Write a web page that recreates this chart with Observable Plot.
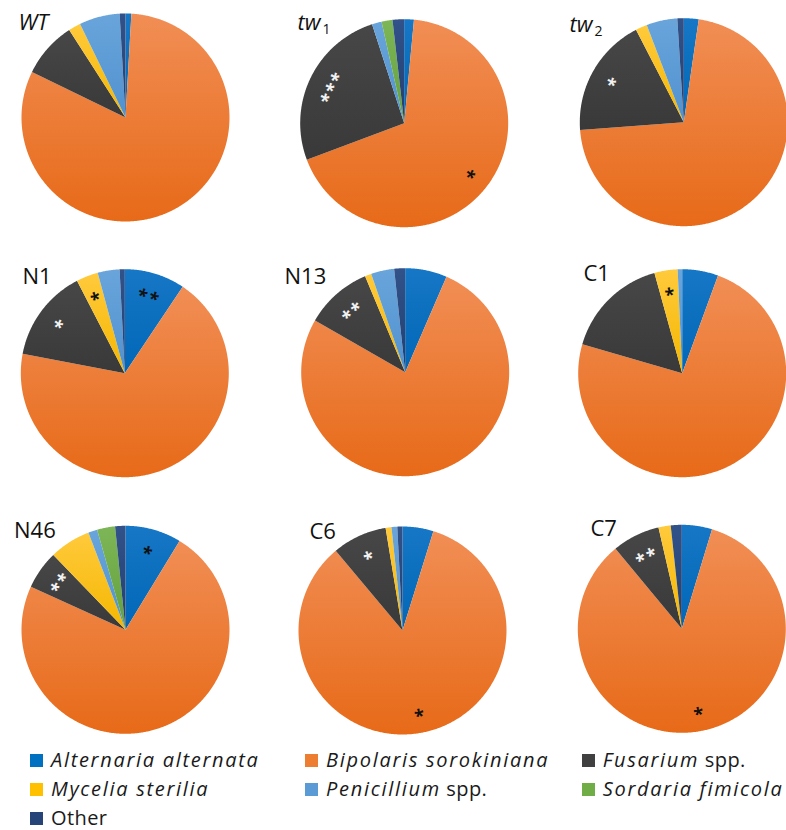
<!DOCTYPE html>
<html>
<head>
<meta charset="utf-8">
<script src="https://cdn.jsdelivr.net/npm/d3@7"></script>
<script src="https://cdn.jsdelivr.net/npm/@observablehq/plot@0.6"></script>
<style>
  body { margin: 0; background: #fff; font-family: "Open Sans", sans-serif; }
  #legend { position: relative; width: 786px; height: 85px; }
  .item { position: absolute; font-size: 20px; line-height: 20px; color: #1a1a1a; white-space: nowrap; }
  .sw { display: inline-block; width: 13px; height: 13px; margin-right: 8px; vertical-align: baseline; }
  .it { font-style: italic; letter-spacing: 1.7px; }
  .rm { letter-spacing: 0.4px; }
</style>
</head>
<body>
<div id="chart"></div>
<div id="legend"></div>
<script>
// Fungal species isolated, in the order slices run clockwise from 12 o'clock
const species = ["Alternaria alternata", "Bipolaris sorokiniana", "Fusarium spp.", "Mycelia sterilia", "Penicillium spp.", "Sordaria fimicola", "Other"];
const colors = ["#0070C0", "#ED7D31", "#404040", "#FFC000", "#5B9BD5", "#70AD47", "#264478"];
const colorsTop = ["#1677c6", "#F18E55", "#474747", "#FFCA3C", "#69A5DB", "#7CB656", "#31528A"];
const colorsBottom = ["#0067b6", "#E76A18", "#393939", "#F4B700", "#5091CF", "#65A03D", "#223E6E"];

// Plant lines (one pie each)
const lines = ["WT", "tw1", "tw2", "N1", "N13", "C1", "N46", "C6", "C7"];

// Share of isolates (%) per species, same order as `species`
const WT  = [0.9, 81.3,  8.7, 1.9, 6.3, 0,   0.9];
const tw1 = [1.5, 67.8, 25.7, 0,   1.5, 1.7, 1.8];
const tw2 = [2.3, 71.5, 18.6, 1.8, 4.8, 0,   1.0];
const N1  = [9.4, 68.6, 14.4, 3.4, 3.4, 0,   0.8];
const N13 = [6.5, 76.8, 10.4, 1.0, 3.6, 0,   1.7];
const C1  = [5.6, 73.9, 16.2, 3.6, 0.7, 0,   0  ];
const N46 = [8.7, 73.1,  6.0, 6.4, 1.4, 2.8, 1.6];
const C6  = [4.8, 84.1,  8.5, 0.9, 0.9, 0,   0.8];
const C7  = [4.7, 84.3,  7.4, 1.9, 0,   0,   1.7];
const shares = {WT, tw1, tw2, N1, N13, C1, N46, C6, C7};

// Significance marks: [line, species, stars]
const significance = [
  ["tw1", "Fusarium spp.", "***"],
  ["tw1", "Bipolaris sorokiniana", "*"],
  ["tw2", "Fusarium spp.", "*"],
  ["N1", "Alternaria alternata", "**"],
  ["N1", "Fusarium spp.", "*"],
  ["N1", "Mycelia sterilia", "*"],
  ["N13", "Fusarium spp.", "**"],
  ["C1", "Mycelia sterilia", "*"],
  ["N46", "Alternaria alternata", "*"],
  ["N46", "Fusarium spp.", "**"],
  ["C6", "Fusarium spp.", "*"],
  ["C6", "Bipolaris sorokiniana", "*"],
  ["C7", "Fusarium spp.", "**"],
  ["C7", "Bipolaris sorokiniana", "*"]
];

// Panel layout (pixels): pie centre, title anchor, title style
const panels = {
  WT:  {cx: 125,   cy: 117,   tx: 18,    ty: 29.3,  label: "WT", italic: true},
  tw1: {cx: 403.7, cy: 122.7, tx: 297,   ty: 29.3,  label: "tw", italic: true, sub: "1"},
  tw2: {cx: 683.3, cy: 121.7, tx: 569,   ty: 31,    label: "tw", italic: true, sub: "2"},
  N1:  {cx: 124.3, cy: 372.7, tx: 22,    ty: 283.3, label: "N1"},
  N13: {cx: 404.7, cy: 371.7, tx: 284,   ty: 283.3, label: "N13"},
  C1:  {cx: 681.7, cy: 372.7, tx: 583,   ty: 280.7, label: "C1"},
  N46: {cx: 125,   cy: 629.3, tx: 13.5,  ty: 537.3, label: "N46"},
  C6:  {cx: 402,   cy: 630,   tx: 309,   ty: 538.3, label: "C6"},
  C7:  {cx: 681.3, cy: 628.3, tx: 590,   ty: 535,   label: "C7"}
};
const R = 104;
const W = 786, H = 745;
const starSize = 18;

// Slice outlines: centre + arc vertices, one series per slice
const pie = d3.pie().sort(null).value(d => d.value).startAngle(0).endAngle(2 * Math.PI);
const slicePoints = [];
const arcsByLine = new Map();
for (const line of lines) {
  const {cx, cy} = panels[line];
  const arcs = pie(species.map((s, i) => ({species: s, value: shares[line][i]})));
  arcsByLine.set(line, arcs);
  for (const a of arcs) {
    if (!(a.value > 0)) continue;
    const key = `${line}|${a.data.species}`;
    slicePoints.push({key, species: a.data.species, x: cx, y: cy});
    const n = Math.max(2, Math.ceil((a.endAngle - a.startAngle) / (Math.PI / 360)));
    for (let k = 0; k <= n; ++k) {
      const t = a.startAngle + (a.endAngle - a.startAngle) * k / n;
      slicePoints.push({key, species: a.data.species, x: cx + R * Math.sin(t), y: cy - R * Math.cos(t)});
    }
  }
}

// Star labels: at the slice's mid-angle, turned along the arc's tangent
const starLabels = significance.map(([line, sp, stars]) => {
  const a = arcsByLine.get(line).find(d => d.data.species === sp);
  const m = (a.startAngle + a.endAngle) / 2;
  const {cx, cy} = panels[line];
  let rot = m * 180 / Math.PI;
  if (Math.cos(m) < 0) rot -= 180;
  const rr = rot * Math.PI / 180;
  // the asterisk glyph sits above the text's middle line; shift it down in its own frame
  const off = 0.24 * starSize;
  return {
    x: cx + 0.8 * R * Math.sin(m) - off * Math.sin(rr),
    y: cy - 0.8 * R * Math.cos(m) + off * Math.cos(rr),
    rotate: rot,
    text: stars.split("").join("\u200A"),
    light: sp === "Fusarium spp."
  };
});

const titles = lines.map(l => ({x: panels[l].tx, y: panels[l].ty, ...panels[l]}));

// Vertical gradient fill for each species
function gradients() {
  const ns = "http://www.w3.org/2000/svg";
  const defs = document.createElementNS(ns, "defs");
  species.forEach((s, i) => {
    const g = document.createElementNS(ns, "linearGradient");
    g.setAttribute("id", `fill${i}`);
    g.setAttribute("x1", 0); g.setAttribute("y1", 0);
    g.setAttribute("x2", 0); g.setAttribute("y2", 1);
    [[0, colorsTop[i]], [1, colorsBottom[i]]].forEach(([o, c]) => {
      const st = document.createElementNS(ns, "stop");
      st.setAttribute("offset", o);
      st.setAttribute("stop-color", c);
      g.appendChild(st);
    });
    defs.appendChild(g);
  });
  return defs;
}

const chart = Plot.plot({
  width: W,
  height: H,
  margin: 0,
  style: {background: "#fff", fontFamily: "'Open Sans', sans-serif"},
  x: {domain: [0, W], range: [0, W], axis: null},
  y: {domain: [0, H], range: [0, H], axis: null},
  color: {domain: species, range: species.map((s, i) => `url(#fill${i})`)},
  marks: [
    gradients,
    Plot.line(slicePoints, {x: "x", y: "y", z: "key", fill: "species", stroke: null, curve: "linear"}),
    Plot.text(titles.filter(d => d.italic), {x: "x", y: "y", text: "label", textAnchor: "start", lineAnchor: "bottom", fontSize: 22, fontStyle: "italic", fill: "#111"}),
    Plot.text(titles.filter(d => !d.italic), {x: "x", y: "y", text: "label", textAnchor: "start", lineAnchor: "bottom", fontSize: 22, fill: "#111"}),
    Plot.text(titles.filter(d => d.sub), {x: "x", y: "y", text: "sub", textAnchor: "start", lineAnchor: "bottom", fontSize: 14, dx: 25, dy: 4, fill: "#111"}),
    Plot.text(starLabels, {x: "x", y: "y", text: "text", rotate: "rotate", fill: d => d.light ? "#f2f2f2" : "#111", fontSize: starSize, fontWeight: "bold"})
  ]
});
document.getElementById("chart").appendChild(chart);

// Legend: three columns, italic binomials, roman "spp."
const legend = document.getElementById("legend");
const colX = [30, 305, 581.7];
const rowBaseline = [22.3, 51.7, 81];
species.forEach((s, i) => {
  const item = document.createElement("div");
  item.className = "item";
  item.style.left = colX[i % 3] + "px";
  item.style.top = (rowBaseline[Math.floor(i / 3)] - 17.8) + "px";
  const sw = document.createElement("span");
  sw.className = "sw";
  sw.style.background = colors[i];
  item.appendChild(sw);
  const parts = s === "Other" ? [[s, false]] : s.endsWith(" spp.") ? [[s.slice(0, -5), true], [" spp.", false]] : [[s, true]];
  for (const [t, it] of parts) {
    const span = document.createElement("span");
    span.className = it ? "it" : "rm";
    span.textContent = t;
    item.appendChild(span);
  }
  legend.appendChild(item);
});
</script>
</body>
</html>
